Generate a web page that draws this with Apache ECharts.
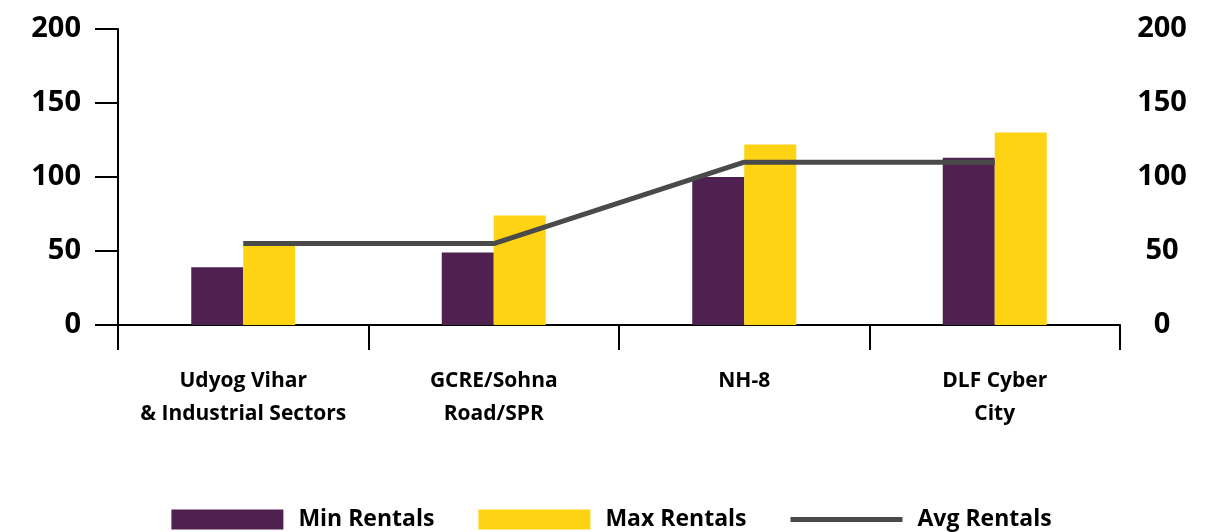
<!DOCTYPE html>
<html>
<head>
<meta charset="utf-8">
<title>Rentals</title>
<script src="https://cdn.jsdelivr.net/npm/echarts@6/dist/echarts.min.js"></script>
<style>
  html, body { margin: 0; padding: 0; background: #fff; }
  #chart { width: 1223px; height: 532px; }
</style>
</head>
<body>
<div id="chart"></div>
<script>
// data
var categories = ['Udyog Vihar\n& Industrial Sectors', 'GCRE/Sohna\nRoad/SPR', 'NH-8', 'DLF Cyber\nCity'];
var minRentals = [39, 49, 100, 113];
var maxRentals = [54, 74, 122, 130];
var avgRentals = [55, 55, 110, 110];
var yTicks = { min: 0, max: 200, interval: 50 };

var font = 'Open Sans';
var chart = echarts.init(document.getElementById('chart'));

var option = {
    animation: false,
    textStyle: { fontFamily: font },
    grid: { left: 118, right: 103, top: 29, bottom: 207 },
    legend: {
        top: 503,
        left: 'center',
        itemWidth: 112,
        itemHeight: 20,
        itemGap: 44,
        textStyle: { fontFamily: font, fontWeight: 'bold', fontSize: 23, color: '#000', padding: [0, 0, 0, 10] },
        data: [
            { name: 'Min Rentals', icon: 'rect' },
            { name: 'Max Rentals', icon: 'rect' },
            { name: 'Avg Rentals', icon: 'path://M0,0 L112,0 L112,5 L0,5 Z' }
        ]
    },
    xAxis: {
        type: 'category',
        data: categories,
        axisLine: { show: true, lineStyle: { color: '#000', width: 2 } },
        axisTick: { show: true, interval: 0, length: 25, lineStyle: { color: '#000', width: 2 } },
        axisLabel: {
            interval: 0,
            margin: 40,
            color: '#000',
            fontFamily: font,
            fontWeight: 'bold',
            fontSize: 21,
            lineHeight: 33
        }
    },
    yAxis: [
        {
            type: 'value',
            min: yTicks.min, max: yTicks.max, interval: yTicks.interval,
            splitLine: { show: false },
            axisLine: { show: true, lineStyle: { color: '#000', width: 2 } },
            axisTick: { show: true, length: 23, lineStyle: { color: '#000', width: 2 } },
            axisLabel: { margin: 37, color: '#000', fontFamily: font, fontWeight: 'bold', fontSize: 29 }
        },
        {
            type: 'value',
            position: 'right',
            min: yTicks.min, max: yTicks.max, interval: yTicks.interval,
            splitLine: { show: false },
            axisLine: { show: false },
            axisTick: { show: false },
            axisLabel: { margin: 42, align: 'center', color: '#000', fontFamily: font, fontWeight: 'bold', fontSize: 29 }
        }
    ],
    series: [
        {
            name: 'Min Rentals',
            type: 'bar',
            barWidth: 52,
            barGap: '0%',
            itemStyle: { color: '#4f2150' },
            data: minRentals
        },
        {
            name: 'Max Rentals',
            type: 'bar',
            barWidth: 52,
            barGap: '0%',
            itemStyle: { color: '#fdd314' },
            data: maxRentals
        },
        {
            name: 'Avg Rentals',
            type: 'line',
            yAxisIndex: 1,
            symbol: 'none',
            lineStyle: { color: '#4a4a4a', width: 5 },
            itemStyle: { color: '#4a4a4a' },
            data: avgRentals
        }
    ]
};

chart.setOption(option);
</script>
</body>
</html>
